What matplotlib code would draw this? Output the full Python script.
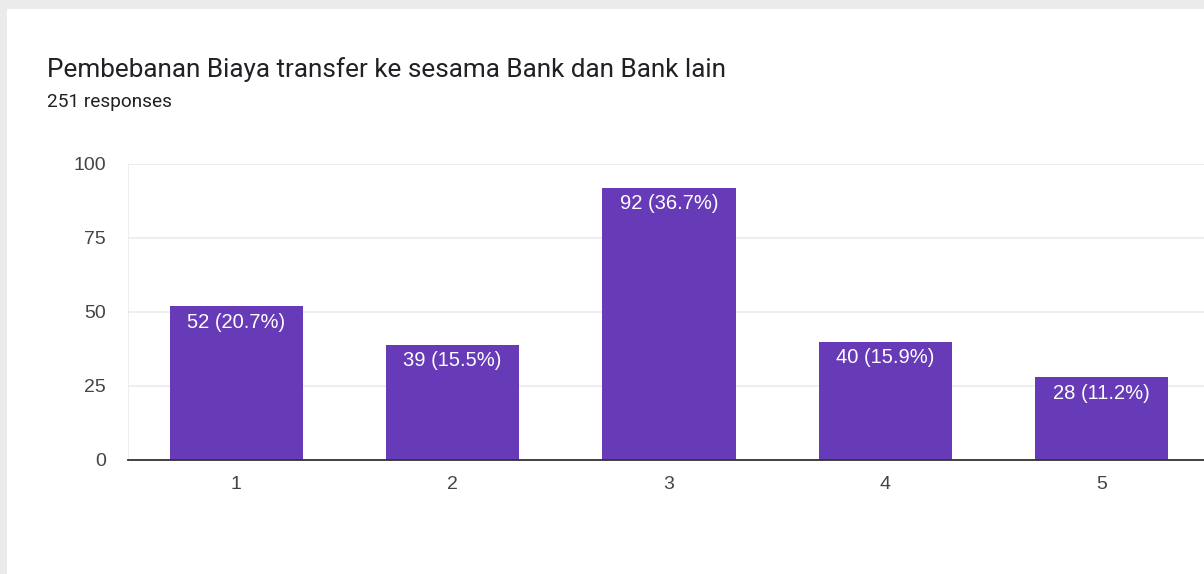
import matplotlib
matplotlib.use("Agg")
import matplotlib.pyplot as plt
from matplotlib.patches import Rectangle

categories = ["1", "2", "3", "4", "5"]
counts = [52, 39, 92, 40, 28]
percents = [20.7, 15.5, 36.7, 15.9, 11.2]
yticks = [0, 25, 50, 75, 100]
title = "Pembebanan Biaya transfer ke sesama Bank dan Bank lain"
subtitle = "251 responses"

plt.rcParams['font.family'] = ['Roboto', 'DejaVu Sans']
ARIAL = ['Liberation Sans', 'DejaVu Sans']

W, H = 1204, 574
fig = plt.figure(figsize=(W / 100, H / 100), dpi=100)
fig.patch.set_facecolor('#ebebeb')
# white card
fig.patches.append(Rectangle((7 / W, 0), 1, 1 - 9 / H, transform=fig.transFigure,
                             facecolor='white', edgecolor='none', zorder=-5))

fig.text(47 / W, 1 - 77 / H, title, fontsize=18.8, color='#202124', ha='left', va='baseline')
fig.text(47 / W, 1 - 107 / H, subtitle, fontsize=13.7, color='#202124', ha='left', va='baseline')

ax = fig.add_axes([128 / W, (H - 460) / H, 1082 / W, 296 / H])
ax.set_facecolor('none')
x = list(range(len(categories)))
bars = ax.bar(x, counts, width=0.615, color='#673ab7', zorder=3)
for xi, c, p in zip(x, counts, percents):
    ax.text(xi, c - 2.2, f"{c} ({p}%)", ha='center', va='top', color='white',
            fontsize=14.5, family=ARIAL, zorder=4)

ax.set_xlim(-0.5, len(categories) - 0.5)
ax.set_ylim(0, 100)
ax.set_yticks(yticks)
ax.set_yticklabels([str(t) for t in yticks])
ax.set_xticks(x)
ax.set_xticklabels(categories)
for lab in ax.get_xticklabels() + ax.get_yticklabels():
    lab.set_family(ARIAL)
ax.tick_params(axis='both', length=0, labelsize=14, labelcolor='#444444')
ax.tick_params(axis='y', pad=16)
ax.tick_params(axis='x', pad=11.5)
ax.grid(axis='y', color='#ebebeb', linewidth=1.2, zorder=0)
for s in ['top', 'right', 'left']:
    ax.spines[s].set_visible(False)
ax.spines['bottom'].set_color('#333333')
ax.spines['bottom'].set_linewidth(1.3)
ax.spines['bottom'].set_zorder(5)
ax.axvline(-0.5, color='#ebebeb', linewidth=1.2, zorder=0)

fig.savefig('out.png', dpi=100, facecolor=fig.get_facecolor())
